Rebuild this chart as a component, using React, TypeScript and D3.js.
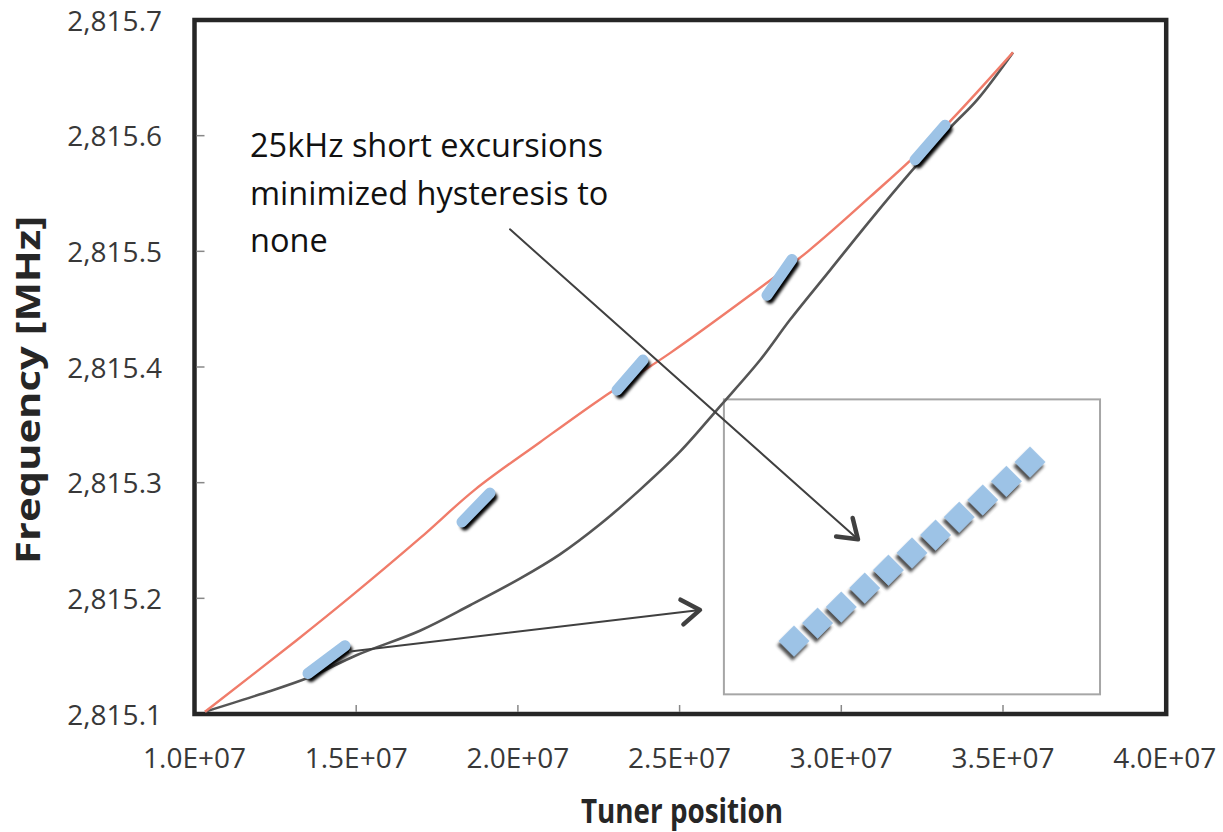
import React from "react";
import * as d3 from "d3";

// forward sweep (red) and reverse sweep (gray), tuner position vs frequency
const fwdPos = [1.0325e7, 1.3169e7, 1.4808e7, 1.6973e7, 1.8673e7, 2.0683e7, 2.2538e7, 2.4703e7, 2.7176e7, 2.897e7, 3.0887e7, 3.2897e7, 3.5309e7];
const fwdFreq = [2815.102, 2815.164, 2815.201, 2815.252, 2815.294, 2815.335, 2815.372, 2815.412, 2815.462, 2815.5, 2815.547, 2815.599, 2815.672];

const revPos = [1.0325e7, 1.2026e7, 1.3572e7, 1.5025e7, 1.697e7, 1.852e7, 2.006e7, 2.13e7, 2.254e7, 2.378e7, 2.502e7, 2.625e7, 2.749e7, 2.842e7, 2.966e7, 3.09e7, 3.213e7, 3.337e7, 3.42e7, 3.531e7];
const revFreq = [2815.102, 2815.117, 2815.132, 2815.151, 2815.172, 2815.194, 2815.217, 2815.238, 2815.264, 2815.294, 2815.327, 2815.366, 2815.406, 2815.441, 2815.484, 2815.527, 2815.568, 2815.607, 2815.631, 2815.672];

// short 25kHz excursions (start/end of each)
const excStartPos = [1.3509e7, 1.8271e7, 2.3064e7, 2.7702e7, 3.2279e7];
const excStartFreq = [2815.135, 2815.266, 2815.38, 2815.462, 2815.579];
const excEndPos = [1.4654e7, 1.9137e7, 2.3868e7, 2.8475e7, 3.3207e7];
const excEndFreq = [2815.159, 2815.291, 2815.406, 2815.493, 2815.609];

// inset: one excursion zoomed in, offsets in kHz
const insetStep = [0, 1, 2, 3, 4, 5, 6, 7, 8, 9, 10];
const insetKHz = [0, 2.5, 4.75, 7.4, 9.9, 12.3, 14.8, 17.3, 19.7, 22.3, 25];

const posTicks = [1.0e7, 1.5e7, 2.0e7, 2.5e7, 3.0e7, 3.5e7, 4.0e7];
const freqTicks = [2815.1, 2815.2, 2815.3, 2815.4, 2815.5, 2815.6, 2815.7];

const noteLines = ["25kHz short excursions", "minimized hysteresis to", "none"];

const W = 1223, H = 832;
const left = 194.5, right = 1164.7, top = 20, bottom = 714;

const App = () => {
    const x = d3.scaleLinear().domain([1e7, 4e7]).range([left, right]);
    const y = d3.scaleLinear().domain([2815.1, 2815.7]).range([bottom, top]);

    const line = d3.line<[number, number]>()
        .x(d => x(d[0]))
        .y(d => y(d[1]))
        .curve(d3.curveCatmullRom.alpha(0.5));

    const fwd = fwdPos.map((p, i) => [p, fwdFreq[i]] as [number, number]);
    const rev = revPos.map((p, i) => [p, revFreq[i]] as [number, number]);

    // inset box in data units
    const insetX0 = 2.637e7, insetX1 = 3.8e7, insetY0 = 2815.117, insetY1 = 2815.372;
    const ix = d3.scaleLinear().domain([0, 10]).range([794, 1030]);
    const iy = d3.scaleLinear().domain([0, 25]).range([641, 462]);

    const fmtY = d3.format(",.1f");
    const fmtX = (v: number) => (v / 1e7).toFixed(1) + "E+07";

    // annotation arrows (data units)
    const arrows = [
        { x1: 1.9755e7, y1: 2815.519, x2: 3.0515e7, y2: 2815.251 },
        { x1: 1.4808e7, y1: 2815.154, x2: 2.563e7, y2: 2815.19 },
    ];

    const font = "'Open Sans', sans-serif";
    const diamond = d3.symbol().type(d3.symbolSquare).size(480)();

    return (
        <svg width={W} height={H} style={{ position: "absolute", left: 0, top: 0, background: "#fff" }}>
            <defs>
                <filter id="soft" x="-5%" y="-5%" width="110%" height="110%">
                    <feGaussianBlur stdDeviation="0.6" />
                </filter>
                <filter id="shadow" x="-50%" y="-50%" width="200%" height="200%">
                    <feGaussianBlur stdDeviation="1.8" />
                </filter>
                <filter id="dshadow" x="-50%" y="-50%" width="200%" height="200%">
                    <feDropShadow dx="2" dy="4" stdDeviation="1.6" floodColor="#333" floodOpacity="0.85" />
                </filter>
            </defs>

            {/* plot frame */}
            <rect x={left} y={top} width={right - left + 1.5} height={bottom - top}
                fill="none" stroke="#262626" strokeWidth={4.5} />

            {/* ticks */}
            {posTicks.slice(1, -1).map(t => (
                <line key={"xt" + t} x1={x(t)} x2={x(t)} y1={bottom - 2} y2={bottom - 9} stroke="#888" strokeWidth={1.5} />
            ))}
            {freqTicks.slice(1, -1).map(t => (
                <line key={"yt" + t} x1={left + 2} x2={left + 10} y1={y(t)} y2={y(t)} stroke="#888" strokeWidth={1.5} />
            ))}

            {/* tick labels */}
            {posTicks.map(t => (
                <text key={"xl" + t} x={x(t)} y={768} textAnchor="middle" fontFamily={font}
                    fontSize={28} fill="#383838">{fmtX(t)}</text>
            ))}
            {freqTicks.map(t => (
                <text key={"yl" + t} x={162} y={y(t) + 10.5} textAnchor="end" fontFamily={font}
                    fontSize={28} fill="#383838">{fmtY(t)}</text>
            ))}

            {/* axis titles */}
            <text x={682} y={823} textAnchor="middle" fontFamily={font} fontWeight="bold"
                fontSize={34} fill="#262626" textLength={202} lengthAdjust="spacingAndGlyphs">Tuner position</text>
            <text transform={`translate(40,390) rotate(-90)`} textAnchor="middle" fontFamily={font}
                fontWeight="bold" fontSize={34} fill="#262626" textLength={348} lengthAdjust="spacingAndGlyphs">Frequency [MHz]</text>

            {/* inset box */}
            <rect x={x(insetX0)} y={y(insetY1)} width={x(insetX1) - x(insetX0)} height={y(insetY0) - y(insetY1)}
                fill="none" stroke="#a6a6a6" strokeWidth={2} />

            {/* curves */}
            <g filter="url(#soft)">
                <path d={line(rev) || ""} fill="none" stroke="#555" strokeWidth={2.6} />
                <path d={line(fwd) || ""} fill="none" stroke="#f07c6a" strokeWidth={2.4} />
            </g>

            {/* excursions */}
            {excStartPos.map((p, i) => (
                <g key={"ex" + i}>
                    <line x1={x(p) + 3} y1={y(excStartFreq[i]) + 4} x2={x(excEndPos[i]) + 3} y2={y(excEndFreq[i]) + 4}
                        stroke="#000" strokeWidth={9} strokeLinecap="round" filter="url(#shadow)" />
                    <line x1={x(p)} y1={y(excStartFreq[i])} x2={x(excEndPos[i])} y2={y(excEndFreq[i])}
                        stroke="#9dc3e6" strokeWidth={11} strokeLinecap="round" />
                </g>
            ))}

            {/* inset diamonds */}
            {insetStep.map((s, i) => (
                <path key={"d" + s} d={diamond || ""} fill="#9dc3e6" filter="url(#dshadow)"
                    transform={`translate(${ix(s)},${iy(insetKHz[i])}) rotate(45)`} />
            ))}

            {/* annotation */}
            {noteLines.map((t, i) => (
                <text key={"n" + i} x={250} y={157 + i * 47.5} fontFamily={font} fontSize={32.5} fill="#111">{t}</text>
            ))}

            {arrows.map((a, i) => {
                const x1 = x(a.x1), y1 = y(a.y1), x2 = x(a.x2), y2 = y(a.y2);
                const ang = Math.atan2(y2 - y1, x2 - x1);
                const L = 22, spread = 0.6;
                const p1 = [x2 - L * Math.cos(ang - spread), y2 - L * Math.sin(ang - spread)];
                const p2 = [x2 - L * Math.cos(ang + spread), y2 - L * Math.sin(ang + spread)];
                return (
                    <g key={"a" + i} stroke="#404040" fill="none" strokeLinecap="round" strokeLinejoin="round">
                        <line x1={x1} y1={y1} x2={x2} y2={y2} strokeWidth={2} />
                        <path d={`M${p1[0]},${p1[1]}L${x2},${y2}L${p2[0]},${p2[1]}`} strokeWidth={4.5} />
                    </g>
                );
            })}
        </svg>
    );
};

export default App;
